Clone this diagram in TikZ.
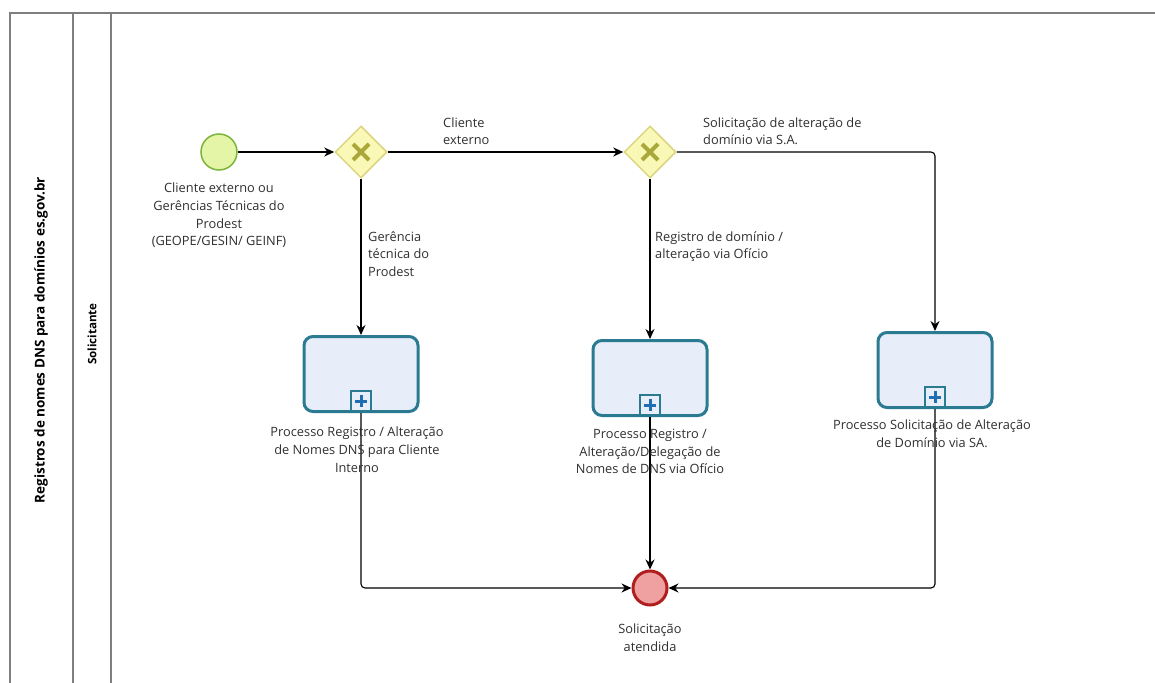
\documentclass[tikz,border=0pt]{standalone}
\usepackage{fontspec}
\setmainfont{Open Sans}
\usetikzlibrary{shapes.geometric,arrows.meta}
\definecolor{poolgray}{HTML}{7F7F7F}
\definecolor{startfill}{HTML}{E4F5A8}
\definecolor{startdraw}{HTML}{7DB43C}
\definecolor{gwfill}{HTML}{FAF8B6}
\definecolor{gwdraw}{HTML}{DCD580}
\definecolor{gwx}{HTML}{ABA83A}
\definecolor{taskfill}{HTML}{E8EDFA}
\definecolor{taskdraw}{HTML}{2A7A92}
\definecolor{plusblue}{HTML}{1F6EB2}
\definecolor{endfill}{HTML}{EFA0A0}
\definecolor{enddraw}{HTML}{B01E1E}
\definecolor{txt}{HTML}{303030}
\begin{document}
\begin{tikzpicture}[x=1pt,y=-1pt,
  lbl/.style={font=\fontsize{12.8}{17.6}\selectfont, text=txt, align=center, inner sep=0pt},
  lbll/.style={lbl, align=left},
  startev/.style={circle, draw=startdraw, line width=1.5pt, fill=startfill, minimum size=36pt, inner sep=0pt},
  endev/.style={circle, draw=enddraw, line width=3pt, fill=endfill, minimum size=34pt, inner sep=0pt},
  gw/.style={diamond, draw=gwdraw, line width=1.5pt, fill=gwfill, minimum width=52pt, minimum height=52pt, inner sep=0pt},
  taskbox/.style={rectangle, rounded corners=9pt, draw=taskdraw, line width=3pt, fill=taskfill, minimum width=114pt, minimum height=75pt, inner sep=0pt},
  flow/.style={draw=black, line width=1.1pt, -{Stealth[length=10pt,width=9pt]}, rounded corners=4pt},
  pool/.style={draw=poolgray, line width=1.2pt}
]
\useasboundingbox (0,0) rectangle (1155,682);
\fill[white] (0,0) rectangle (1155,682);
% pool and lanes
\draw[pool, line width=2pt] (10,690) -- (10,13) -- (1160,13);
\draw[pool] (73,13) -- (73,690);
\draw[pool] (111,13) -- (111,690);
\node[rotate=90, font=\fontsize{13.5}{15}\selectfont\bfseries, text=black] (poolname) at (41,340) {Registros de nomes DNS para domínios es.gov.br};
\node[rotate=90, font=\fontsize{11.6}{13}\selectfont\bfseries, text=black] (lanename) at (92,334) {Solicitante};

% events and gateways
\node[startev] (start) at (219,152) {};
\node[gw] (gw1) at (361,152) {};
\node[gw] (gw2) at (650,152) {};
\foreach \g in {gw1,gw2}{
  \draw[gwx, line width=4pt] ([shift={(-8,-8)}]\g.center) -- ([shift={(8,8)}]\g.center);
  \draw[gwx, line width=4pt] ([shift={(-8,8)}]\g.center) -- ([shift={(8,-8)}]\g.center);
}
\node[taskbox] (t1) at (361,374) {};
\node[taskbox] (t2) at (650,378) {};
\node[taskbox] (t3) at (935,370) {};
\foreach \t in {t1,t2,t3}{
  \draw[taskdraw, line width=1.5pt, fill=taskfill] ([shift={(-10,-22)}]\t.south) rectangle ([shift={(10,-2)}]\t.south);
  \draw[plusblue, line width=3pt] ([shift={(-6,-12)}]\t.south) -- ([shift={(6,-12)}]\t.south);
  \draw[plusblue, line width=3pt] ([shift={(0,-18)}]\t.south) -- ([shift={(0,-6)}]\t.south);
}
\node[endev] (end) at (650,588) {};

% flows
\draw[flow] (start) -- (gw1);
\draw[flow] (gw1) -- (gw2);
\draw[flow] (gw1.south) -- (t1.north);
\draw[flow] (gw2.south) -- (t2.north);
\draw[flow] (gw2.east) -| (t3.north);
\draw[flow] (t1.south) |- (end.west);
\draw[flow] (t2.south) -- (end.north);
\draw[flow] (t3.south) |- (end.east);

% labels
\node[lbl, anchor=north] (startlbl) at (219,183) {Cliente externo ou\\Gerências Técnicas do\\Prodest\\(GEOPE/GESIN/ GEINF)};
\node[lbll, anchor=south west] (lblext) at (443,145) {Cliente\\externo};
\node[lbll, anchor=south west] (lblsa) at (703,145) {Solicitação de alteração de\\domínio via S.A.};
\node[lbll, anchor=north west] (lblger) at (368,231) {Gerência\\técnica do\\Prodest};
\node[lbll, anchor=north west] (lblreg) at (655,231) {Registro de domínio /\\alteração via Ofício};
\node[lbl, anchor=north] (t1lbl) at (357,427) {Processo Registro / Alteração\\de Nomes DNS para Cliente\\Interno};
\node[lbl, anchor=north] (t2lbl) at (650,429) {Processo Registro /\\Alteração/Delegação de\\Nomes de DNS via Ofício};
\node[lbl, anchor=north] (t3lbl) at (932,420) {Processo Solicitação de Alteração\\de Domínio via SA.};
\node[lbl, anchor=north] (endlbl) at (650,624) {Solicitação\\atendida};
\end{tikzpicture}
\end{document}
